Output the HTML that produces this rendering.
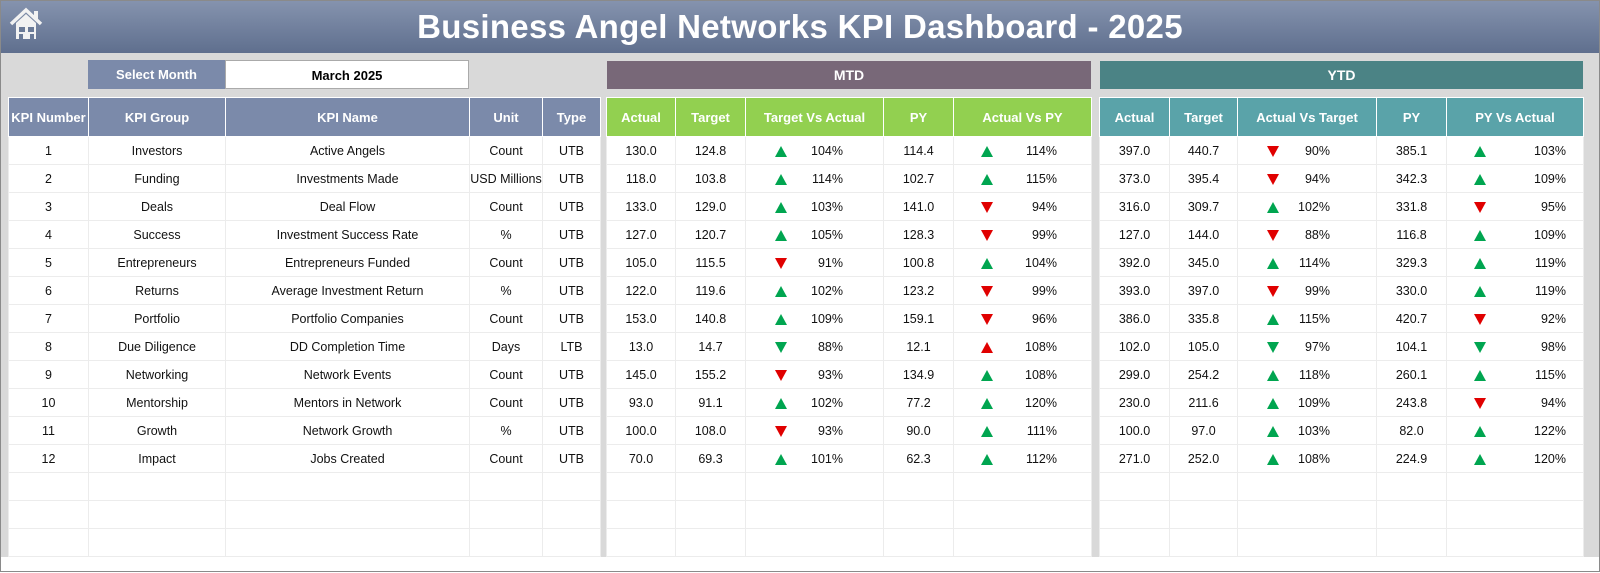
<!DOCTYPE html>
<html><head><meta charset="utf-8"><style>
*{margin:0;padding:0;box-sizing:border-box}
body{width:1600px;height:573px;background:#fff;font-family:"Liberation Sans",Arial,sans-serif;position:relative;overflow:hidden}
.frame{position:absolute;left:0;top:0;width:1600px;height:572px;border:1px solid #8a8a8a}
.bg{position:absolute;left:1px;top:53px;width:1598px;height:504px;background:#d9d9d9}
.title{position:absolute;left:1px;top:1px;width:1598px;height:52px;background:linear-gradient(#8593ae,#5f6f8e);color:#fff;font-weight:bold;font-size:33px;text-align:center;line-height:52px;letter-spacing:0.3px}
.home{position:absolute;left:8px;top:6px}
.sel{position:absolute;top:60px;height:29px;line-height:29px;text-align:center;font-size:13px;font-weight:bold}
.bar{position:absolute;top:61px;height:28px;line-height:28px;text-align:center;color:#fff;font-weight:bold;font-size:14px}
table{position:absolute;top:97px;border-collapse:collapse;table-layout:fixed;background:#fff;font-size:12.5px;color:#111}
td,th{text-align:center;border:1px solid #ececec;height:28px;padding:0;white-space:nowrap;overflow:hidden}
th{height:39px;color:#fff;font-weight:bold;font-size:13px;border-color:rgba(255,255,255,0.35)}
.t1{left:8px;border:1px solid #5f6f8e}
.t1 th{background:#7b8aaa}
.t2{left:606px;border:1px solid #6b8a40}
.t2 th{background:#92d050}
.t3{left:1099px;border:1px solid #4a7f85}
.t3 th{background:#5aa3a9}
td.a{position:relative}
td.a i{position:absolute;top:9px;width:0;height:0;border-left:6px solid transparent;border-right:6px solid transparent}
i.u{border-bottom:11px solid #00a550}
i.d{border-top:11px solid #00a550}
i.ur{border-bottom:11px solid #e00000}
i.dr{border-top:11px solid #e00000}
td.a b{position:absolute;top:0;line-height:28px;font-weight:normal}
.m1 i{left:29px}.m1 b{right:40px}
.m2 i{left:27px}.m2 b{right:34px}
.y1 i{left:29px}.y1 b{right:46px}
.y2 i{left:27px}.y2 b{right:17px}
</style></head><body>
<div class="frame"></div>
<div class="bg"></div>
<div class="title">Business Angel Networks KPI Dashboard - 2025</div>
<svg class="home" width="36" height="36" viewBox="0 0 36 36"><path d="M3 18 L18 4 L33 18" fill="none" stroke="#f2f2f2" stroke-width="3.5"/><rect x="26" y="5" width="4" height="8" fill="#f2f2f2"/><path d="M8 17 L18 8 L28 17 L28 33 L8 33Z" fill="#f2f2f2"/><rect x="11" y="21" width="6" height="5" fill="#6a7a97"/><rect x="20" y="21" width="6" height="5" fill="#6a7a97"/><rect x="11" y="28" width="4" height="5" fill="#6a7a97"/><rect x="22" y="28" width="4" height="5" fill="#6a7a97"/></svg>
<div class="sel" style="left:88px;width:137px;background:#7b8aaa;color:#fff">Select Month</div>
<div class="sel" style="left:225px;width:244px;background:#fff;border:1px solid #aaa;color:#000">March 2025</div>
<div class="bar" style="left:607px;width:484px;background:#786878">MTD</div>
<div class="bar" style="left:1100px;width:483px;background:#4b8385">YTD</div>

<table class="t1"><colgroup><col style="width:80px"><col style="width:137px"><col style="width:244px"><col style="width:73px"><col style="width:58px"></colgroup>
<tr><th>KPI Number</th><th>KPI Group</th><th>KPI Name</th><th>Unit</th><th>Type</th></tr>
<tr><td>1</td><td>Investors</td><td>Active Angels</td><td>Count</td><td>UTB</td></tr>
<tr><td>2</td><td>Funding</td><td>Investments Made</td><td>USD Millions</td><td>UTB</td></tr>
<tr><td>3</td><td>Deals</td><td>Deal Flow</td><td>Count</td><td>UTB</td></tr>
<tr><td>4</td><td>Success</td><td>Investment Success Rate</td><td>%</td><td>UTB</td></tr>
<tr><td>5</td><td>Entrepreneurs</td><td>Entrepreneurs Funded</td><td>Count</td><td>UTB</td></tr>
<tr><td>6</td><td>Returns</td><td>Average Investment Return</td><td>%</td><td>UTB</td></tr>
<tr><td>7</td><td>Portfolio</td><td>Portfolio Companies</td><td>Count</td><td>UTB</td></tr>
<tr><td>8</td><td>Due Diligence</td><td>DD Completion Time</td><td>Days</td><td>LTB</td></tr>
<tr><td>9</td><td>Networking</td><td>Network Events</td><td>Count</td><td>UTB</td></tr>
<tr><td>10</td><td>Mentorship</td><td>Mentors in Network</td><td>Count</td><td>UTB</td></tr>
<tr><td>11</td><td>Growth</td><td>Network Growth</td><td>%</td><td>UTB</td></tr>
<tr><td>12</td><td>Impact</td><td>Jobs Created</td><td>Count</td><td>UTB</td></tr>
<tr><td></td><td></td><td></td><td></td><td></td></tr>
<tr><td></td><td></td><td></td><td></td><td></td></tr>
<tr><td></td><td></td><td></td><td></td><td></td></tr>
</table>

<table class="t2"><colgroup><col style="width:69px"><col style="width:70px"><col style="width:138px"><col style="width:70px"><col style="width:138px"></colgroup>
<tr><th>Actual</th><th>Target</th><th>Target Vs Actual</th><th>PY</th><th>Actual Vs PY</th></tr>
<tr><td>130.0</td><td>124.8</td><td class="a m1"><i class="u"></i><b>104%</b></td><td>114.4</td><td class="a m2"><i class="u"></i><b>114%</b></td></tr>
<tr><td>118.0</td><td>103.8</td><td class="a m1"><i class="u"></i><b>114%</b></td><td>102.7</td><td class="a m2"><i class="u"></i><b>115%</b></td></tr>
<tr><td>133.0</td><td>129.0</td><td class="a m1"><i class="u"></i><b>103%</b></td><td>141.0</td><td class="a m2"><i class="dr"></i><b>94%</b></td></tr>
<tr><td>127.0</td><td>120.7</td><td class="a m1"><i class="u"></i><b>105%</b></td><td>128.3</td><td class="a m2"><i class="dr"></i><b>99%</b></td></tr>
<tr><td>105.0</td><td>115.5</td><td class="a m1"><i class="dr"></i><b>91%</b></td><td>100.8</td><td class="a m2"><i class="u"></i><b>104%</b></td></tr>
<tr><td>122.0</td><td>119.6</td><td class="a m1"><i class="u"></i><b>102%</b></td><td>123.2</td><td class="a m2"><i class="dr"></i><b>99%</b></td></tr>
<tr><td>153.0</td><td>140.8</td><td class="a m1"><i class="u"></i><b>109%</b></td><td>159.1</td><td class="a m2"><i class="dr"></i><b>96%</b></td></tr>
<tr><td>13.0</td><td>14.7</td><td class="a m1"><i class="d"></i><b>88%</b></td><td>12.1</td><td class="a m2"><i class="ur"></i><b>108%</b></td></tr>
<tr><td>145.0</td><td>155.2</td><td class="a m1"><i class="dr"></i><b>93%</b></td><td>134.9</td><td class="a m2"><i class="u"></i><b>108%</b></td></tr>
<tr><td>93.0</td><td>91.1</td><td class="a m1"><i class="u"></i><b>102%</b></td><td>77.2</td><td class="a m2"><i class="u"></i><b>120%</b></td></tr>
<tr><td>100.0</td><td>108.0</td><td class="a m1"><i class="dr"></i><b>93%</b></td><td>90.0</td><td class="a m2"><i class="u"></i><b>111%</b></td></tr>
<tr><td>70.0</td><td>69.3</td><td class="a m1"><i class="u"></i><b>101%</b></td><td>62.3</td><td class="a m2"><i class="u"></i><b>112%</b></td></tr>
<tr><td></td><td></td><td></td><td></td><td></td></tr>
<tr><td></td><td></td><td></td><td></td><td></td></tr>
<tr><td></td><td></td><td></td><td></td><td></td></tr>
</table>

<table class="t3"><colgroup><col style="width:70px"><col style="width:68px"><col style="width:139px"><col style="width:70px"><col style="width:137px"></colgroup>
<tr><th>Actual</th><th>Target</th><th>Actual Vs Target</th><th>PY</th><th>PY Vs Actual</th></tr>
<tr><td>397.0</td><td>440.7</td><td class="a y1"><i class="dr"></i><b>90%</b></td><td>385.1</td><td class="a y2"><i class="u"></i><b>103%</b></td></tr>
<tr><td>373.0</td><td>395.4</td><td class="a y1"><i class="dr"></i><b>94%</b></td><td>342.3</td><td class="a y2"><i class="u"></i><b>109%</b></td></tr>
<tr><td>316.0</td><td>309.7</td><td class="a y1"><i class="u"></i><b>102%</b></td><td>331.8</td><td class="a y2"><i class="dr"></i><b>95%</b></td></tr>
<tr><td>127.0</td><td>144.0</td><td class="a y1"><i class="dr"></i><b>88%</b></td><td>116.8</td><td class="a y2"><i class="u"></i><b>109%</b></td></tr>
<tr><td>392.0</td><td>345.0</td><td class="a y1"><i class="u"></i><b>114%</b></td><td>329.3</td><td class="a y2"><i class="u"></i><b>119%</b></td></tr>
<tr><td>393.0</td><td>397.0</td><td class="a y1"><i class="dr"></i><b>99%</b></td><td>330.0</td><td class="a y2"><i class="u"></i><b>119%</b></td></tr>
<tr><td>386.0</td><td>335.8</td><td class="a y1"><i class="u"></i><b>115%</b></td><td>420.7</td><td class="a y2"><i class="dr"></i><b>92%</b></td></tr>
<tr><td>102.0</td><td>105.0</td><td class="a y1"><i class="d"></i><b>97%</b></td><td>104.1</td><td class="a y2"><i class="d"></i><b>98%</b></td></tr>
<tr><td>299.0</td><td>254.2</td><td class="a y1"><i class="u"></i><b>118%</b></td><td>260.1</td><td class="a y2"><i class="u"></i><b>115%</b></td></tr>
<tr><td>230.0</td><td>211.6</td><td class="a y1"><i class="u"></i><b>109%</b></td><td>243.8</td><td class="a y2"><i class="dr"></i><b>94%</b></td></tr>
<tr><td>100.0</td><td>97.0</td><td class="a y1"><i class="u"></i><b>103%</b></td><td>82.0</td><td class="a y2"><i class="u"></i><b>122%</b></td></tr>
<tr><td>271.0</td><td>252.0</td><td class="a y1"><i class="u"></i><b>108%</b></td><td>224.9</td><td class="a y2"><i class="u"></i><b>120%</b></td></tr>
<tr><td></td><td></td><td></td><td></td><td></td></tr>
<tr><td></td><td></td><td></td><td></td><td></td></tr>
<tr><td></td><td></td><td></td><td></td><td></td></tr>
</table>
</body></html>
